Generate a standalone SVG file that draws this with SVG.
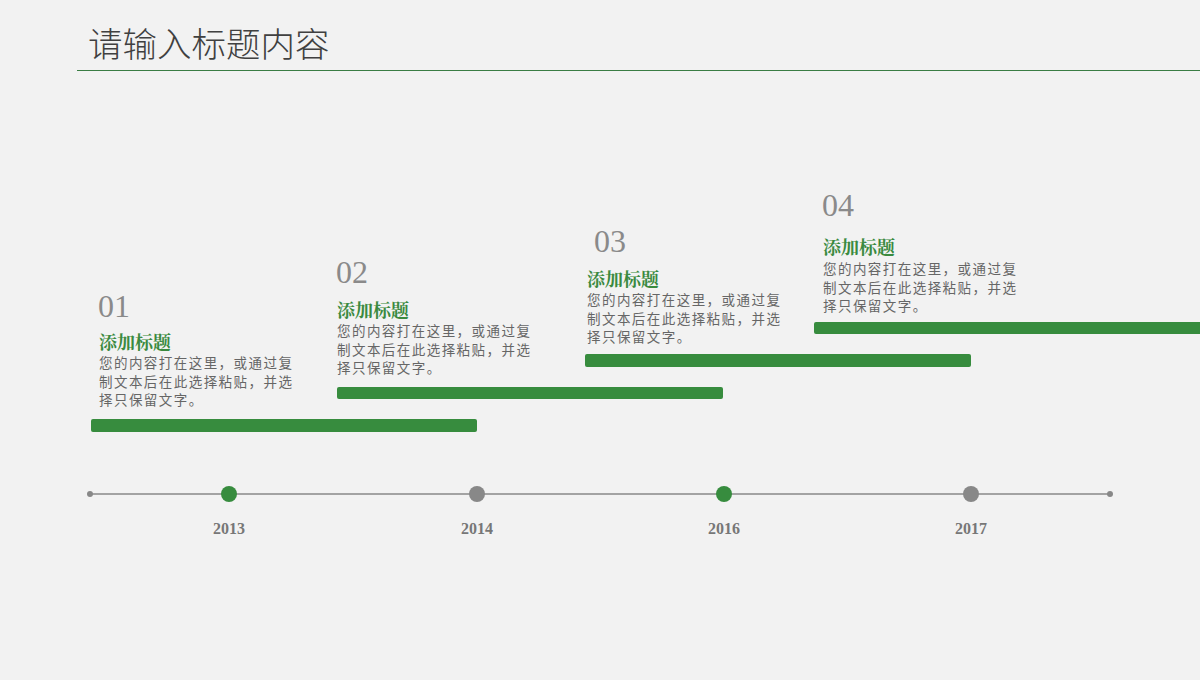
<svg xmlns="http://www.w3.org/2000/svg" width="1200" height="680" viewBox="0 0 1200 680">
<style>
.num{font-family:"Liberation Serif","Noto Sans CJK SC",serif;font-size:32px;fill:#8a8a8a}
.head{font-family:"Noto Serif CJK SC","Noto Sans CJK SC",serif;font-size:18px;font-weight:bold;fill:#3a8a3f}
.body{font-family:"Noto Sans CJK SC",sans-serif;font-size:13.5px;fill:#666;letter-spacing:1.45px}
.year{font-family:"Liberation Serif",serif;font-size:16px;font-weight:bold;fill:#777;text-anchor:middle}
.bar{fill:#378c3e}
</style>
<rect width="1200" height="680" fill="#f2f2f2"/>
<g id="title">
<text x="88" y="57" font-family="Noto Sans CJK SC,sans-serif" font-size="34.5" font-weight="300" fill="#404040">请输入标题内容</text>
<line x1="77" y1="70.5" x2="1200" y2="70.5" stroke="#3a7d44" stroke-width="1"/>
</g>
<g id="connectors">
<line x1="90" y1="494" x2="1110" y2="494" stroke="#888" stroke-width="1.5"/>
<circle cx="90" cy="494" r="3" fill="#888"/>
<circle cx="1110" cy="494" r="3" fill="#888"/>
</g>
<g id="item1">
<rect class="bar" x="91" y="419" width="386" height="13" rx="2"/>
<text class="num" x="98" y="317">01</text>
<text class="head" x="99" y="349">添加标题</text>
<text class="body" x="99" y="368">您的内容打在这里，或通过复</text>
<text class="body" x="99" y="387">制文本后在此选择粘贴，并选</text>
<text class="body" x="99" y="405">择只保留文字。</text>
</g>
<g id="item2">
<rect class="bar" x="337" y="387" width="386" height="12" rx="2"/>
<text class="num" x="336" y="283">02</text>
<text class="head" x="337" y="317">添加标题</text>
<text class="body" x="337" y="336">您的内容打在这里，或通过复</text>
<text class="body" x="337" y="355">制文本后在此选择粘贴，并选</text>
<text class="body" x="337" y="373">择只保留文字。</text>
</g>
<g id="item3">
<rect class="bar" x="585" y="354" width="386" height="13" rx="2"/>
<text class="num" x="594" y="252">03</text>
<text class="head" x="587" y="286">添加标题</text>
<text class="body" x="587" y="305">您的内容打在这里，或通过复</text>
<text class="body" x="587" y="324">制文本后在此选择粘贴，并选</text>
<text class="body" x="587" y="342">择只保留文字。</text>
</g>
<g id="item4">
<rect class="bar" x="814" y="322" width="390" height="12" rx="2"/>
<text class="num" x="822" y="216">04</text>
<text class="head" x="823" y="254">添加标题</text>
<text class="body" x="823" y="274">您的内容打在这里，或通过复</text>
<text class="body" x="823" y="293">制文本后在此选择粘贴，并选</text>
<text class="body" x="823" y="311">择只保留文字。</text>
</g>
<g id="y2013"><circle cx="229" cy="494" r="8" fill="#378c3e"/><text class="year" x="229" y="534">2013</text></g>
<g id="y2014"><circle cx="477" cy="494" r="8" fill="#888"/><text class="year" x="477" y="534">2014</text></g>
<g id="y2016"><circle cx="724" cy="494" r="8" fill="#378c3e"/><text class="year" x="724" y="534">2016</text></g>
<g id="y2017"><circle cx="971" cy="494" r="8" fill="#888"/><text class="year" x="971" y="534">2017</text></g>
</svg>
